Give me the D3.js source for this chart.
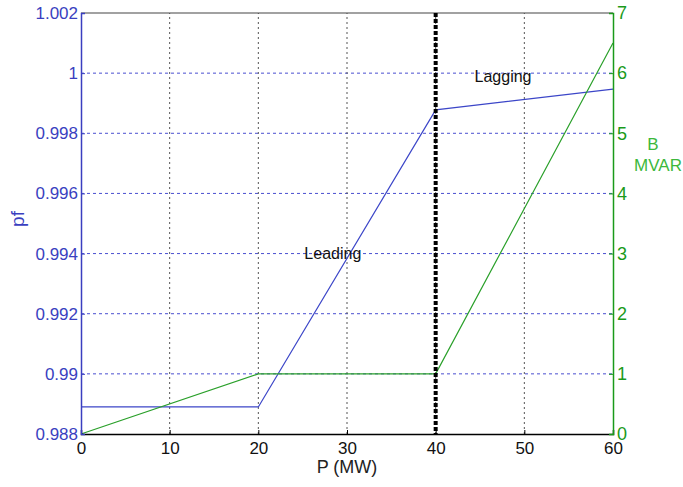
<!DOCTYPE html>
<html>
<head>
<meta charset="utf-8">
<script src="https://cdn.jsdelivr.net/npm/d3@7"></script>
<style>
  body { margin: 0; background: #fff; }
  svg { font-family: "Liberation Sans", Arial, sans-serif; }
</style>
</head>
<body>
<div id="chart"></div>
<script>
// Data
const pPoints = [0, 20, 40, 60];
const pfValues = [0.98890, 0.98890, 0.99878, 0.99947];
const bValues = [0, 1, 1, 6.5];
const xTicks = [0, 10, 20, 30, 40, 50, 60];
const pfTicks = [0.988, 0.99, 0.992, 0.994, 0.996, 0.998, 1, 1.002];
const bTicks = [0, 1, 2, 3, 4, 5, 6, 7];

const width = 683, height = 487;
const margin = { left: 81, right: 70, top: 13, bottom: 53 };

const svg = d3.select("#chart").append("svg")
  .attr("width", width)
  .attr("height", height);

const x = d3.scaleLinear().domain([0, 60]).range([margin.left, width - margin.right]);
const yPf = d3.scaleLinear().domain([0.988, 1.002]).range([height - margin.bottom, margin.top]);
const yB = d3.scaleLinear().domain([0, 7]).range([height - margin.bottom, margin.top]);

const blue = "#3a3fc0", green = "#1a9a1a";

// grid lines
svg.append("g")
  .selectAll("line")
  .data(pfTicks.slice(1, -1))
  .join("line")
  .attr("x1", x(0)).attr("x2", x(60))
  .attr("y1", d => yPf(d)).attr("y2", d => yPf(d))
  .attr("stroke", "#4a4fd0").attr("stroke-width", 1)
  .attr("stroke-dasharray", "3,3");

svg.append("g")
  .selectAll("line")
  .data(xTicks.slice(1, -1))
  .join("line")
  .attr("x1", d => x(d)).attr("x2", d => x(d))
  .attr("y1", yPf(0.988)).attr("y2", yPf(1.002))
  .attr("stroke", "#555").attr("stroke-width", 1)
  .attr("stroke-dasharray", "2,3");

// top border
svg.append("line")
  .attr("x1", x(0)).attr("x2", x(60))
  .attr("y1", yPf(1.002)).attr("y2", yPf(1.002))
  .attr("stroke", "#444").attr("stroke-width", 1.2);

// series
const idx = d3.range(pPoints.length);
svg.append("path")
  .attr("fill", "none").attr("stroke", "#3c46c8").attr("stroke-width", 1.2)
  .attr("d", d3.line().x(i => x(pPoints[i])).y(i => yPf(pfValues[i]))(idx));

svg.append("path")
  .attr("fill", "none").attr("stroke", "#2aa02a").attr("stroke-width", 1.2)
  .attr("d", d3.line().x(i => x(pPoints[i])).y(i => yB(bValues[i]))(idx));

// thick dashed divider at P = 40
svg.append("line")
  .attr("x1", x(40)).attr("x2", x(40))
  .attr("y1", yPf(1.002)).attr("y2", yPf(0.988))
  .attr("stroke", "#000").attr("stroke-width", 4)
  .attr("stroke-dasharray", "4,2");

// axes
const xAxis = svg.append("g")
  .attr("transform", `translate(0,${height - margin.bottom})`)
  .call(d3.axisBottom(x).tickValues(xTicks).tickSize(-4).tickPadding(8).tickFormat(d3.format("d")));
xAxis.select(".domain").attr("stroke", "#000").attr("stroke-width", 1.5);
xAxis.selectAll("text").attr("font-size", 17).attr("fill", "#111");

const yAxisL = svg.append("g")
  .attr("transform", `translate(${margin.left},0)`)
  .call(d3.axisLeft(yPf).tickValues(pfTicks).tickSize(-4).tickPadding(3).tickFormat(d => String(+d.toFixed(3))));
yAxisL.selectAll("line").attr("stroke", blue);
yAxisL.select(".domain").attr("stroke", blue).attr("stroke-width", 1.5);
yAxisL.selectAll("text").attr("font-size", 17).attr("fill", blue);

const yAxisR = svg.append("g")
  .attr("transform", `translate(${width - margin.right},0)`)
  .call(d3.axisRight(yB).tickValues(bTicks).tickSize(-4).tickPadding(4).tickFormat(d3.format("d")));
yAxisR.selectAll("line").attr("stroke", green);
yAxisR.select(".domain").attr("stroke", green).attr("stroke-width", 1.5);
yAxisR.selectAll("text").attr("font-size", 18).attr("fill", green);

// labels
svg.append("text")
  .attr("x", x(30)).attr("y", 473)
  .attr("text-anchor", "middle").attr("font-size", 18).attr("fill", "#222")
  .text("P (MW)");

svg.append("text")
  .attr("transform", `translate(24,${yPf(0.99515)}) rotate(-90)`)
  .attr("text-anchor", "middle").attr("font-size", 19).attr("fill", blue)
  .text("pf");

svg.append("text")
  .attr("x", 653).attr("y", 150)
  .attr("text-anchor", "middle").attr("font-size", 17).attr("fill", "#3cb83c")
  .text("B");
svg.append("text")
  .attr("x", 658).attr("y", 171)
  .attr("text-anchor", "middle").attr("font-size", 17).attr("fill", "#3cb83c")
  .text("MVAR");

svg.append("text")
  .attr("x", x(28.4)).attr("y", 259)
  .attr("text-anchor", "middle").attr("font-size", 16).attr("fill", "#111")
  .text("Leading");

svg.append("text")
  .attr("x", x(47.6)).attr("y", 82)
  .attr("text-anchor", "middle").attr("font-size", 16).attr("fill", "#111")
  .text("Lagging");
</script>
</body>
</html>
